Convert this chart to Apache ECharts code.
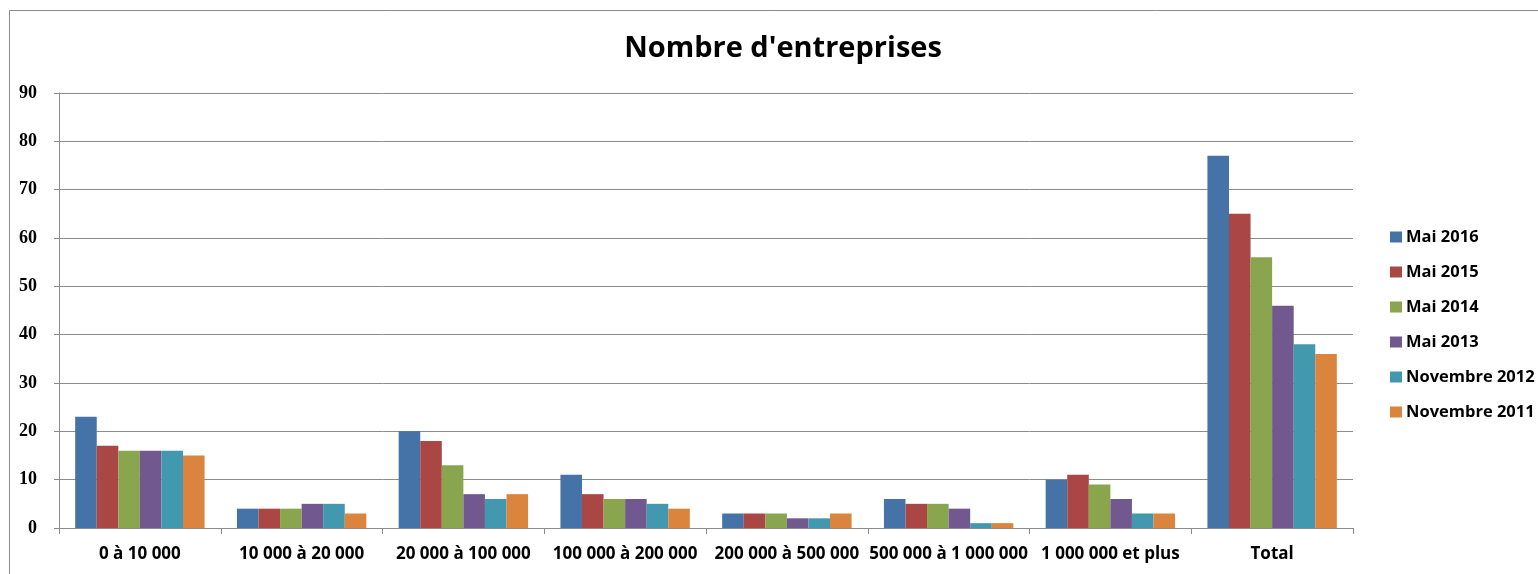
<!DOCTYPE html>
<html><head><meta charset="utf-8">
<script src="https://cdn.jsdelivr.net/npm/echarts@6/dist/echarts.min.js"></script>
<style>html,body{margin:0;padding:0;background:#fff}#c{width:1538px;height:574px}</style>
</head><body><div id="c"></div>
<script>
var categories = ['0 à 10 000','10 000 à 20 000','20 000 à 100 000','100 000 à 200 000','200 000 à 500 000','500 000 à 1 000 000','1 000 000 et plus','Total'];
var seriesNames = ['Mai 2016','Mai 2015','Mai 2014','Mai 2013','Novembre 2012','Novembre 2011'];
var mai2016 = [23,4,20,11,3,6,10,77];
var mai2015 = [17,4,18,7,3,5,11,65];
var mai2014 = [16,4,13,6,3,5,9,56];
var mai2013 = [16,5,7,6,2,4,6,46];
var nov2012 = [16,5,6,5,2,1,3,38];
var nov2011 = [15,3,7,4,3,1,3,36];
var colors = ['#4572A7','#AA4643','#89A54E','#71588F','#4198AF','#DB843D'];
var values = [mai2016,mai2015,mai2014,mai2013,nov2012,nov2011];

var chart = echarts.init(document.getElementById('c'));
chart.setOption({
  animation:false,
  color: colors,
  title:{text:"Nombre d'entreprises",left:778,top:29,textAlign:'center',
    textStyle:{fontFamily:'Open Sans',fontWeight:'bold',fontSize:29,color:'#000'}},
  graphic:[{type:'rect',shape:{x:9.5,y:10.5,width:1540,height:570},style:{fill:'none',stroke:'#8c8c8c',lineWidth:1}}],
  legend:{orient:'vertical',left:1385,top:221,itemWidth:12,itemHeight:11,itemGap:13,icon:'rect',
    textStyle:{fontFamily:'Open Sans',fontWeight:'bold',fontSize:16.5,lineHeight:22,color:'#000',padding:[0,0,0,-1]},data:seriesNames},
  grid:{left:59,right:185,top:93,bottom:46},
  xAxis:{type:'category',data:categories,
    axisLine:{lineStyle:{color:'#8c8c8c'}},
    axisTick:{show:true,alignWithLabel:false,length:6,lineStyle:{color:'#8c8c8c'}},
    axisLabel:{interval:0,hideOverlap:false,margin:18,fontFamily:'Open Sans',fontWeight:'bold',fontSize:17,color:'#000'}},
  yAxis:{type:'value',min:0,max:90,interval:10,
    axisLine:{show:true,lineStyle:{color:'#8c8c8c'}},
    axisTick:{show:true,length:5,lineStyle:{color:'#8c8c8c'}},
    splitLine:{lineStyle:{color:'#8c8c8c'}},
    axisLabel:{margin:22,fontFamily:'Liberation Serif',fontWeight:'bold',fontSize:18,color:'#000'}},
  series: seriesNames.map(function(n,i){return {name:n,type:'bar',data:values[i],barGap:'0%',barCategoryGap:'20%'};})
});
</script></body></html>
